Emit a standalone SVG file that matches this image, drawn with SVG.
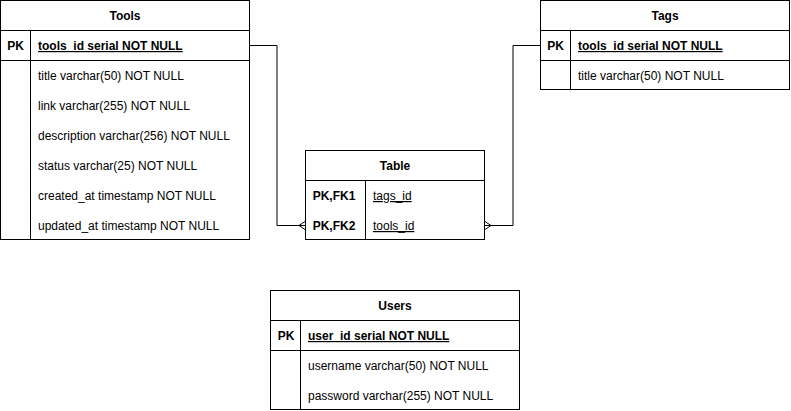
<svg xmlns="http://www.w3.org/2000/svg" width="791" height="411" viewBox="0 0 791 411">
<style>
  .box{fill:#fff;stroke:#000;stroke-width:1}
  .ln{stroke:#000;stroke-width:1;fill:none}
  text{font-family:"Liberation Sans",Arial,Helvetica,sans-serif;font-size:12px;fill:#000}
  .title{font-weight:bold;text-anchor:middle}
  .key{font-weight:bold;text-anchor:middle}
  .pk{font-weight:bold;text-decoration:underline}
  .fk{text-decoration:underline}
  .conn{stroke:#000;stroke-width:1;fill:none}
</style>
<rect width="791" height="411" fill="#fff"/>
<g id="tools">
  <rect class="box" x="0.5" y="0.5" width="249" height="239"/>
  <line class="ln" x1="0.5" y1="30.5" x2="249.5" y2="30.5"/>
  <line class="ln" x1="0.5" y1="60.5" x2="249.5" y2="60.5"/>
  <line class="ln" x1="30.5" y1="30.5" x2="30.5" y2="239.5"/>
  <text class="title" x="125" y="20">Tools</text>
  <text class="key" x="15.5" y="50">PK</text>
  <text class="pk" x="38" y="50">tools_id serial NOT NULL</text>
  <text x="38" y="80">title varchar(50) NOT NULL</text>
  <text x="38" y="110">link varchar(255) NOT NULL</text>
  <text x="38" y="140">description varchar(256) NOT NULL</text>
  <text x="38" y="170">status varchar(25) NOT NULL</text>
  <text x="38" y="200">created_at timestamp NOT NULL</text>
  <text x="38" y="230">updated_at timestamp NOT NULL</text>
</g>
<g id="tags">
  <rect class="box" x="540.5" y="0.5" width="249" height="89"/>
  <line class="ln" x1="540.5" y1="30.5" x2="789.5" y2="30.5"/>
  <line class="ln" x1="540.5" y1="60.5" x2="789.5" y2="60.5"/>
  <line class="ln" x1="570.5" y1="30.5" x2="570.5" y2="89.5"/>
  <text class="title" x="665" y="20">Tags</text>
  <text class="key" x="555.5" y="50">PK</text>
  <text class="pk" x="578" y="50">tools_id serial NOT NULL</text>
  <text x="578" y="80">title varchar(50) NOT NULL</text>
</g>
<g id="table">
  <rect class="box" x="305.5" y="150.5" width="179" height="89"/>
  <line class="ln" x1="305.5" y1="180.5" x2="484.5" y2="180.5"/>
  <line class="ln" x1="365.5" y1="180.5" x2="365.5" y2="239.5"/>
  <text class="title" x="395" y="170">Table</text>
  <text class="key" x="334" y="200">PK,FK1</text>
  <text class="key" x="334" y="230">PK,FK2</text>
  <text class="fk" x="373" y="200">tags_id</text>
  <text class="fk" x="373" y="230">tools_id</text>
</g>
<g id="users">
  <rect class="box" x="270.5" y="290.5" width="249" height="119"/>
  <line class="ln" x1="270.5" y1="320.5" x2="519.5" y2="320.5"/>
  <line class="ln" x1="270.5" y1="350.5" x2="519.5" y2="350.5"/>
  <line class="ln" x1="300.5" y1="320.5" x2="300.5" y2="409.5"/>
  <text class="title" x="395" y="310">Users</text>
  <text class="key" x="286" y="340">PK</text>
  <text class="pk" x="308" y="340">user_id serial NOT NULL</text>
  <text x="308" y="370">username varchar(50) NOT NULL</text>
  <text x="308" y="400">password varchar(255) NOT NULL</text>
</g>
<g id="connectors">
  <path class="conn" d="M250 45.5 H277 V225.5 H305"/>
  <path class="conn" d="M305 221.5 L299 225.5 L305 229.5"/>
  <path class="conn" d="M540 45.5 H513 V225.5 H485"/>
  <path class="conn" d="M485 221.5 L491 225.5 L485 229.5"/>
</g>
</svg>
